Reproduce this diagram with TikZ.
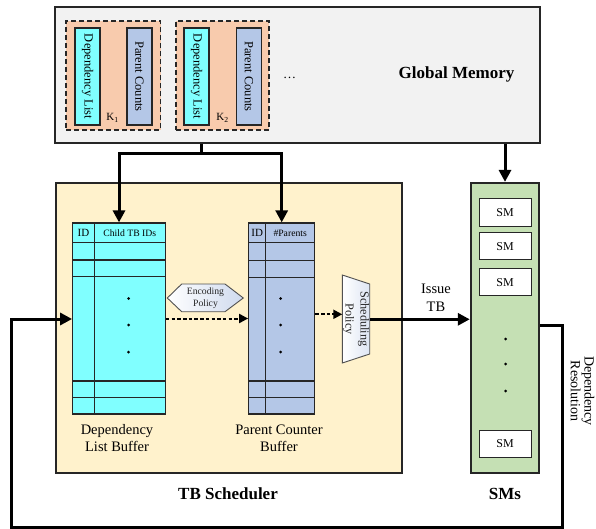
\documentclass[tikz,border=0pt]{standalone}
\usepackage{fontspec}
\setmainfont{Liberation Serif}
\usetikzlibrary{arrows.meta,calc}
\definecolor{gmfill}{HTML}{F2F2F2}
\definecolor{kfill}{HTML}{F8CBAD}
\definecolor{cyanfill}{HTML}{80FFFF}
\definecolor{pcfill}{HTML}{B4C7E7}
\definecolor{schedfill}{HTML}{FFF2CC}
\definecolor{smfill}{HTML}{C5E0B4}
\definecolor{shadeblue}{HTML}{CFDAEE}
\definecolor{edge}{HTML}{262626}
\begin{document}
\begin{tikzpicture}[x=1pt,y=-1pt,
  box/.style={draw=edge, line width=1.3pt, inner sep=0pt, anchor=center},
  kbox/.style={box, fill=kfill, dash pattern=on 5pt off 3pt, line width=1.4pt},
  tallrect/.style={box, line width=1.1pt, minimum width=25pt, minimum height=97pt},
  tabline/.style={draw=edge, line width=1.2pt},
  smbox/.style={box, fill=white, line width=1pt, minimum width=52pt, minimum height=27.5pt, font=\fontsize{12}{14}\selectfont},
  bigarrow/.style={line width=3pt, -{Triangle[length=12pt,width=12pt]}},
  dotarrow/.style={line width=2pt, dash pattern=on 3.5pt off 2.2pt, -{Triangle[length=9pt,width=9pt]}},
  lbl/.style={inner sep=0pt, align=center, font=\fontsize{14.5}{17}\selectfont},
  title/.style={inner sep=0pt, font=\fontsize{17}{20}\selectfont\bfseries},
  dotmark/.style={fill=black, circle, inner sep=0pt, minimum size=3pt}
]
\useasboundingbox (0,0) rectangle (596,529);

% Global memory
\node[box, fill=gmfill, minimum width=485pt, minimum height=136pt] (gm) at (297.5,75) {};
\node[kbox, minimum width=94.5pt, minimum height=109pt] (k1) at (113.25,75.5) {};
\node[kbox, minimum width=93pt, minimum height=109pt] (k2) at (222.5,75.5) {};
\node[tallrect, fill=cyanfill] (dl1) at (87.5,76.5) {};
\node[tallrect, fill=pcfill] (pc1) at (139.5,76.5) {};
\node[tallrect, fill=cyanfill] (dl2) at (196.5,76.5) {};
\node[tallrect, fill=pcfill] (pc2) at (249,76.5) {};
\foreach \n in {dl1,dl2} \node[rotate=-90, inner sep=0pt, font=\fontsize{12.5}{14}\selectfont] at (\n) {Dependency List};
\foreach \n in {pc1,pc2} \node[rotate=-90, inner sep=0pt, font=\fontsize{12.5}{14}\selectfont] at (\n) {Parent Counts};
\node[inner sep=0pt, font=\fontsize{11}{13}\selectfont] (k1l) at (112.5,118) {K\textsubscript{1}};
\node[inner sep=0pt, font=\fontsize{11}{13}\selectfont] (k2l) at (222.5,118) {K\textsubscript{2}};
\node[inner sep=0pt, font=\fontsize{13}{15}\selectfont] (more) at (289.5,78) {…};
\node[title] (gmt) at (456.5,74) {Global Memory};

% TB scheduler
\node[box, fill=schedfill, line width=1.5pt, minimum width=346pt, minimum height=290pt] (sched) at (229,328) {};
\node[title] (schedt) at (228,494) {TB Scheduler};

% SMs
\node[box, fill=smfill, line width=2.2pt, minimum width=68.3pt, minimum height=290pt] (sms) at (505,328) {};
\node[title] (smst) at (505,494) {SMs};
\node[smbox] (sm1) at (505,212.3) {SM};
\node[smbox] (sm2) at (505,246.2) {SM};
\node[smbox] (sm3) at (505,282.2) {SM};
\node[smbox] (sm4) at (505,444) {SM};
\foreach \y [count=\i] in {339,364,391} \node[dotmark] (smd\i) at (505.7,\y) {};

% Dependency list buffer table
\node[box, fill=cyanfill, line width=1.2pt, minimum width=92.6pt, minimum height=191pt] (dlb) at (119,318.5) {};
\foreach \y in {242.7,260,276.7,381,397.5} \draw[tabline] (dlb.west |- 0,\y) -- (dlb.east |- 0,\y);
\draw[tabline] (94.3,0 |- dlb.north) -- (94.3,0 |- dlb.south);
\node[inner sep=0pt, font=\fontsize{11}{13}\selectfont] (dlid) at (83.5,233) {ID};
\node[inner sep=0pt, font=\fontsize{9.7}{11}\selectfont] (dlch) at (129.8,233) {Child TB IDs};
\foreach \y [count=\i] in {298.5,325,352} \node[dotmark] (dld\i) at (128.5,\y) {};
\node[lbl] (dlbl) at (117,438.5) {Dependency\\List Buffer};

% Parent counter buffer table
\node[box, fill=pcfill, line width=1.2pt, minimum width=66pt, minimum height=191pt] (pcb) at (281.7,318.5) {};
\foreach \y in {242.3,260.3,277.3,381,397.5} \draw[tabline] (pcb.west |- 0,\y) -- (pcb.east |- 0,\y);
\draw[tabline] (265.7,0 |- pcb.north) -- (265.7,0 |- pcb.south);
\node[inner sep=0pt, font=\fontsize{11}{13}\selectfont] (pcid) at (257.2,233) {ID};
\node[inner sep=0pt, font=\fontsize{9.7}{11}\selectfont] (pcpa) at (290.2,233) {\#Parents};
\foreach \y [count=\i] in {298.5,325,352} \node[dotmark] (pcd\i) at (280.5,\y) {};
\node[lbl] (pcbl) at (279,438.5) {Parent Counter\\Buffer};

% Encoding policy hexagon
\path[draw=edge!80, line width=0.9pt, left color=white, right color=shadeblue]
  (167.3,298) -- (181.7,284) -- (225,284) -- (243.3,298) -- (225,311.7) -- (181.7,311.7) -- cycle;
\node[inner sep=0pt, align=center, text=edge, font=\fontsize{9.7}{11.5}\selectfont] (enc) at (205.5,298.3) {Encoding\\Policy};

% Scheduling policy trapezoid
\path[draw=edge!80, line width=0.9pt, left color=white, right color=shadeblue!70]
  (342.3,275) -- (369.7,284) -- (369.7,354) -- (342.3,363) -- cycle;
\node[rotate=-90, inner sep=0pt, align=center, text=edge, font=\fontsize{12.2}{15}\selectfont] (sp) at (356,319) {Scheduling\\Policy};
\coordinate (spin) at (342.3,314.3);
\coordinate (spout) at (369.7,319.3);

% Connectors
\coordinate (split) at (201,154);
\draw[line width=3pt] (gm.south -| split) -- (split);
\draw[bigarrow] (split) -| (dlb.north);
\draw[bigarrow] (split) -| (pcb.north);
\draw[bigarrow] (gm.south -| sms.north) -- (sms.north);
\coordinate (ydl) at (0,318.5);
\draw[dotarrow] (dlb.east |- ydl) -- (pcb.west |- ydl);
\draw[dotarrow] (pcb.east |- spin) -- (spin);
\draw[bigarrow] (spout) -- (sms.west |- spout);
\node[lbl, font=\fontsize{14.5}{18}\selectfont] (issue) at (436,298) {Issue\\TB};
\coordinate (loopR) at (562,325.7);
\coordinate (loopB) at (11,527);
\coordinate (yin) at (0,319);
\draw[line width=3pt, line join=miter, -{Triangle[length=12pt,width=12pt]}]
  (sms.east |- loopR) -- (loopR) |- (loopB) -- (loopB |- yin) -- (dlb.west |- yin);
\node[rotate=-90, inner sep=0pt, align=center, font=\fontsize{14}{12.5}\selectfont] (depres) at (582.5,391) {Dependency\\Resolution};
\end{tikzpicture}
\end{document}
